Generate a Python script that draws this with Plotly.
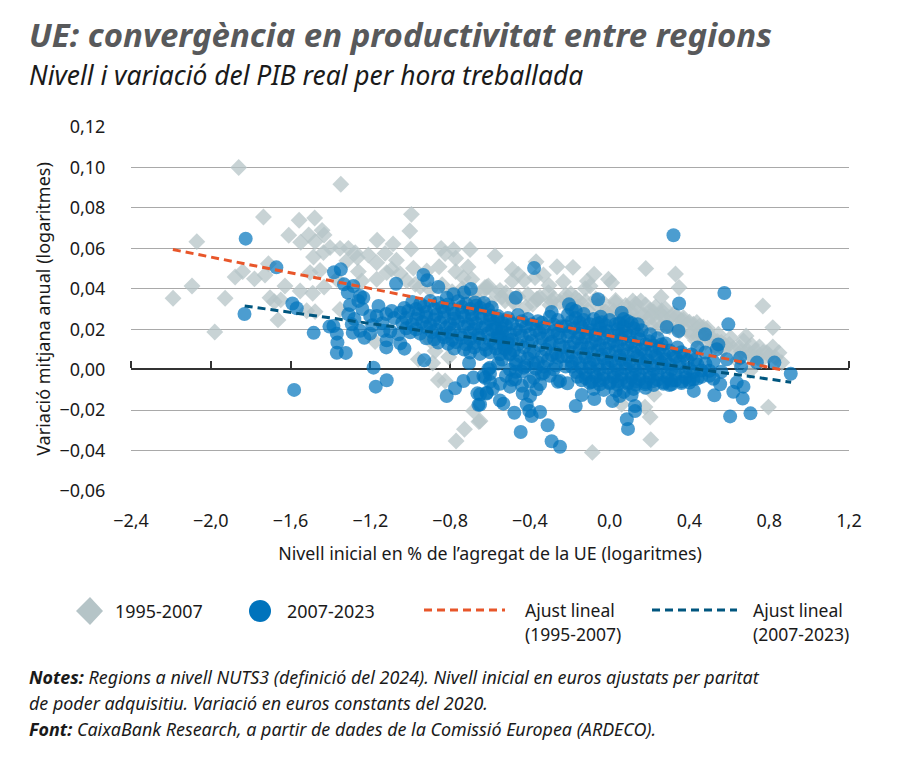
import plotly.graph_objects as go

# 1995-2007 regions (x = initial level, y = mean annual change)
grey_x = [-1.860, -1.348, -1.736, -1.557, -1.479, -2.070, -1.609, -1.509, -1.442, -1.432,
          -1.477, -1.549, -0.994, -1.002, -1.166, -1.086, -0.996, -0.845, -0.783, -0.700,
          -1.402, -1.352, -1.310, -1.435, -1.485, -1.276, -1.265, -1.210, -1.126, -1.069,
          -1.168, -0.825, -0.772, -0.855, -0.710, -0.984, -0.917, -1.452, -1.502, -1.318,
          -1.260, -1.118, -1.093, -1.051, -0.772, -0.733, -0.691, -1.711, -1.728, -1.840,
          -1.878, -1.781, -1.628, -2.094, -2.189, -1.928, -1.552, -1.489, -1.432, -1.368,
          -1.243, -1.168, -1.017, -0.975, -1.703, -1.681, -1.649, -1.519, -1.477, -1.663,
          -1.980, -1.352, -1.176, -0.897, -0.875, -0.807, -0.959, -0.887, -0.859, -0.825,
          -0.683, -0.728, -0.656, -0.770, -0.616,
          -0.575, -0.369, -0.264, -0.184, -0.488, -0.458, -0.488, -0.428, -0.332, -0.374,
          -0.232, -0.078, -0.006, 0.010, -0.112, -0.098, -0.123, 0.181, 0.330, 0.348,
          -0.304, -0.307, -0.625, -0.608, -0.550, -0.525, -0.483, -0.366, -0.386, -0.195,
          -0.219, -0.290, -0.152, 0.030, 0.116, 0.156, 0.258, 0.086, 0.203, 0.261,
          0.768, 0.818, 0.437, 0.370, 0.336, 0.684, 0.671, 0.607, 0.545, 0.487,
          0.712, 0.751, 0.818, 0.788, 0.849, 0.863, 0.704, 0.796, 0.223, 0.177,
          0.203, 0.206, -0.087, -0.650, 0.060,
          0.02, 0.07, 0.12, 0.17, 0.22, 0.27, 0.32, 0.37, 0.42, 0.47,
          0.05, 0.10, 0.15, 0.19, 0.24, 0.29, 0.34, 0.39, 0.44, 0.50,
          -0.16, -0.11, -0.06, -0.02, 0.54, 0.58, 0.62, 0.66, 0.70, 0.74,
          -0.72, -0.66, -0.60, -0.54, -0.48, -0.42, -0.36, -0.30, -0.25, -0.20,
          # thick part of the band above the blue cloud
          -0.95, -0.90, -0.84, -0.79, -0.74, -0.68, -0.63, -0.57, -0.52, -0.46, -0.41, -0.35,
          -0.28, -0.22, -0.17, -0.12, -0.07, -0.03, 0.03, 0.08, 0.13, 0.18, 0.23, 0.28,
          -0.04, 0.00, 0.05, 0.11, 0.16, 0.21, 0.26, 0.31, 0.36, 0.40, 0.45, 0.49,
          0.11, 0.16, 0.21, 0.25, 0.30, 0.35, 0.41, 0.46, 0.52, 0.56, 0.60, 0.65,
          0.69, 0.73, 0.77, 0.80, 0.83, 0.72, 0.76, 0.64, 0.57, 0.53, 0.48, 0.43]
grey_y = [0.1000, 0.0917, 0.0755, 0.0739, 0.0750, 0.0633, 0.0665, 0.0666, 0.0689, 0.0666,
          0.0633, 0.0630, 0.0768, 0.0686, 0.0640, 0.0622, 0.0597, 0.0600, 0.0595, 0.0594,
          0.0604, 0.0600, 0.0600, 0.0579, 0.0557, 0.0579, 0.0554, 0.0567, 0.0575, 0.0541,
          0.0529, 0.0574, 0.0551, 0.0509, 0.0508, 0.0502, 0.0488, 0.0491, 0.0480, 0.0538,
          0.0485, 0.0480, 0.0497, 0.0475, 0.0485, 0.0455, 0.0447, 0.0524, 0.0468, 0.0485,
          0.0458, 0.0449, 0.0414, 0.0414, 0.0353, 0.0353, 0.0389, 0.0378, 0.0409, 0.0447,
          0.0439, 0.0447, 0.0439, 0.0422, 0.0356, 0.0336, 0.0345, 0.0291, 0.0287, 0.0246,
          0.0186, 0.0298, 0.0139, 0.0142, 0.0092, 0.0063, 0.0051, 0.0033, -0.0051, -0.0056,
          -0.0204, -0.0295, -0.0257, -0.0353, 0.0409,
          0.0562, 0.0534, 0.0509, 0.0506, 0.0496, 0.0472, 0.0439, 0.0442, 0.0468, 0.0455,
          0.0435, 0.0472, 0.0447, 0.0430, 0.0439, 0.0414, 0.0401, 0.0500, 0.0473, 0.0406,
          0.0417, 0.0381, 0.0406, 0.0414, 0.0392, 0.0340, 0.0340, 0.0348, 0.0323, 0.0376,
          0.0369, 0.0340, 0.0340, 0.0332, 0.0340, 0.0340, 0.0359, 0.0307, 0.0294, 0.0291,
          0.0315, 0.0208, 0.0233, 0.0257, 0.0266, 0.0167, 0.0142, 0.0158, 0.0175, 0.0191,
          0.0122, 0.0112, 0.0112, 0.0084, 0.0084, 0.0035, -0.0006, -0.0185, -0.0122, -0.0185,
          -0.0234, -0.0346, -0.0409, -0.0254, -0.0171,
          0.0290, 0.0275, 0.0300, 0.0270, 0.0285, 0.0262, 0.0275, 0.0245, 0.0225, 0.0210,
          0.0240, 0.0255, 0.0230, 0.0250, 0.0235, 0.0220, 0.0205, 0.0190, 0.0165, 0.0150,
          0.0310, 0.0295, 0.0315, 0.0285, 0.0140, 0.0120, 0.0105, 0.0090, 0.0075, 0.0060,
          0.0370, 0.0345, 0.0325, 0.0360, 0.0330, 0.0310, 0.0350, 0.0320, 0.0335, 0.0305,
          0.0410, 0.0395, 0.0420, 0.0385, 0.0400, 0.0378, 0.0392, 0.0375, 0.0380, 0.0362, 0.0372, 0.0358,
          0.0352, 0.0345, 0.0355, 0.0338, 0.0350, 0.0330, 0.0342, 0.0318, 0.0325, 0.0320, 0.0310, 0.0300,
          0.0270, 0.0280, 0.0265, 0.0282, 0.0270, 0.0262, 0.0268, 0.0262, 0.0240, 0.0235, 0.0215, 0.0205,
          0.0220, 0.0210, 0.0218, 0.0205, 0.0212, 0.0190, 0.0180, 0.0170, 0.0150, 0.0135, 0.0125, 0.0110,
          0.0095, 0.0095, 0.0085, 0.0070, 0.0060, 0.0060, 0.0045, 0.0045, 0.0100, 0.0115, 0.0135, 0.0145]

# 2007-2023 regions
blue_x = [-1.825, -1.831, -1.671, -1.582, -1.591, -1.569, -1.484, -1.405, -1.385, -1.382,
          -1.348, -1.368, -1.365, -1.368, -1.323, -1.332, -1.313, -1.285, -1.251, -1.235,
          -1.302, -1.310, -1.293, -1.288, -1.251, -1.230, -1.201, -1.159, -1.201, -1.168,
          -1.134, -1.118, -1.071, -1.093, -1.059, -1.029, -1.184, -1.118, -1.173, -0.930,
          -0.934, -0.914, -0.859, -0.817, -0.783, -0.730, -0.696, -0.675, -0.705, -0.733,
          -0.775, -0.817, -0.683, -0.663, -0.658, -0.616, -0.608, -0.633,
          0.320, -0.379, 0.575, 0.595, 0.348, -0.058, -0.471, -0.591, -0.291, -0.204,
          -0.045, 0.060, 0.286, 0.478, 0.203, 0.345, 0.545, 0.537, 0.654, 0.738,
          0.826, 0.908, 0.587, 0.659, 0.554, 0.525, 0.637, 0.671, 0.620, 0.667,
          0.604, 0.706, 0.422, 0.300, 0.127, 0.086, 0.092, 0.127, 0.014, -0.077,
          -0.170, -0.140, -0.249, -0.212, -0.349, -0.366, -0.436, -0.399, -0.474, -0.500,
          -0.586, -0.617, -0.650, -0.550, -0.533, -0.478, -0.446, -0.391, -0.349, -0.311,
          -0.291, -0.249, -0.416, -0.403, -0.600, -0.625, -0.650,
          # left part of the cloud
          -0.99, -0.95, -0.90, -0.86, -0.81, -0.76, -0.72, -0.67, -0.63,
          -1.05, -1.01, -0.96, -0.92, -0.87, -0.83, -0.78, -0.74, -0.69, -0.65, -0.60,
          -1.04, -0.99, -0.94, -0.90, -0.85, -0.80, -0.76, -0.71, -0.67, -0.62, -0.58,
          -1.00, -0.95, -0.89, -0.84, -0.80, -0.75, -0.70, -0.66, -0.61, -0.56,
          -0.86, -0.81, -0.77, -0.72, -0.68, -0.63, -0.58, -0.53,
          -0.70, -0.65, -0.60, -0.55, -0.50,
          -1.03, -0.97, -0.93, -0.88, -0.84, -0.79, -0.74, -0.70, -0.65, -0.61,
          -1.02, -0.97, -0.92, -0.88, -0.83, -0.78, -0.73, -0.69, -0.64, -0.60, -0.56,
          -1.02, -0.97, -0.92, -0.87, -0.82, -0.78, -0.73, -0.68, -0.64, -0.59, -0.54,
          -0.92, -0.88, -0.83, -0.79, -0.74, -0.70, -0.65, -0.60, -0.55, -0.51,
          -0.78, -0.73, -0.68, -0.62, -0.57, -0.52,
          # middle part
          -0.56, -0.51, -0.46, -0.41, -0.36, -0.30, -0.26,
          -0.57, -0.52, -0.47, -0.42, -0.37, -0.33, -0.28, -0.24,
          -0.55, -0.49, -0.44, -0.39, -0.34, -0.29, -0.25,
          -0.53, -0.48, -0.43, -0.38, -0.32, -0.27, -0.23,
          -0.54, -0.47, -0.41, -0.36, -0.31, -0.26,
          -0.50, -0.44, -0.37, -0.33, -0.28,
          -0.54, -0.49, -0.44, -0.39, -0.34, -0.28,
          -0.54, -0.50, -0.45, -0.40, -0.35, -0.31, -0.26,
          -0.51, -0.46, -0.41, -0.35, -0.30, -0.25,
          -0.50, -0.45, -0.40, -0.34, -0.29, -0.24,
          -0.47, -0.42, -0.38, -0.33, -0.27, -0.22,
          # densest part
          -0.21, -0.17, -0.13, -0.08, -0.04, 0.00, 0.05, 0.09,
          -0.22, -0.18, -0.14, -0.09, -0.05, -0.01, 0.04, 0.08, 0.12, 0.16,
          -0.21, -0.16, -0.12, -0.07, -0.03, 0.02, 0.06, 0.11, 0.15, 0.20, 0.24, 0.28,
          -0.20, -0.15, -0.11, -0.06, -0.02, 0.03, 0.07, 0.12, 0.16, 0.21, 0.25, 0.30, 0.34,
          -0.21, -0.17, -0.12, -0.08, -0.03, 0.01, 0.06, 0.10, 0.15, 0.19, 0.24, 0.28, 0.33, 0.37, 0.41,
          -0.19, -0.14, -0.10, -0.05, -0.01, 0.04, 0.08, 0.13, 0.17, 0.22, 0.26, 0.31, 0.35, 0.40, 0.44, 0.48,
          -0.16, -0.12, -0.07, -0.03, 0.02, 0.06, 0.11, 0.15, 0.20, 0.24, 0.29, 0.33, 0.38, 0.42, 0.46, 0.50,
          -0.10, -0.05, 0.00, 0.04, 0.09, 0.13, 0.18, 0.22, 0.27, 0.31, 0.36, 0.40,
          -0.19, -0.15, -0.10, -0.06, -0.02, 0.03, 0.07,
          -0.20, -0.15, -0.11, -0.07, -0.03, 0.02, 0.06, 0.10, 0.14,
          -0.18, -0.14, -0.09, -0.05, 0.00, 0.04, 0.09, 0.13, 0.18, 0.22, 0.26,
          -0.19, -0.13, -0.09, -0.04, 0.00, 0.05, 0.09, 0.14, 0.18, 0.23, 0.27, 0.32, 0.36,
          -0.19, -0.15, -0.10, -0.06, -0.01, 0.03, 0.08, 0.12, 0.17, 0.21, 0.26, 0.30, 0.35, 0.39, 0.43,
          -0.17, -0.12, -0.08, -0.03, 0.02, 0.06, 0.11, 0.15, 0.20, 0.24, 0.29, 0.33, 0.38, 0.42, 0.46,
          -0.14, -0.09, -0.05, 0.00, 0.04, 0.09, 0.13, 0.18, 0.22, 0.27, 0.31, 0.36, 0.40, 0.44,
          # edges of the cloud
          -1.12, -1.08, -1.14, -1.24, -1.19, -1.10, -1.05, -1.12, -1.28, -1.26,
          -0.60, -0.56, -0.52, -0.47, -0.43, -0.38, -0.34, -0.30, -0.26, -0.60, -0.55, -0.49, -0.44, -0.40,
          -0.08, -0.03, 0.03, 0.07, 0.12, 0.18, 0.05, 0.11,
          -0.19, -0.17, -0.13, 0.07, 0.11, 0.14,
          0.44, 0.48, 0.52, 0.50, 0.56, 0.52]
blue_y = [0.0648, 0.0275, 0.0506, -0.0100, 0.0327, 0.0304, 0.0182, 0.0213, 0.0216, 0.0482,
          0.0496, 0.0178, 0.0134, 0.0084, 0.0083, 0.0422, 0.0381, 0.0414, 0.0364, 0.0356,
          0.0320, 0.0274, 0.0224, 0.0183, 0.0192, 0.0158, 0.0178, 0.0315, 0.0266, 0.0266,
          0.0192, 0.0145, 0.0425, 0.0290, 0.0175, 0.0104, 0.0010, -0.0052, -0.0084, 0.0046,
          0.0468, 0.0442, 0.0409, 0.0356, 0.0373, 0.0381, 0.0399, 0.0332, 0.0033, -0.0056,
          -0.0092, -0.0130, -0.0039, -0.0117, -0.0174, -0.0114, 0.0002, -0.0031,
          0.0665, 0.0503, 0.0379, 0.0224, 0.0327, 0.0348, 0.0356, 0.0307, 0.0285, 0.0323,
          0.0262, 0.0282, 0.0211, 0.0175, 0.0175, 0.0191, 0.0125, 0.0101, 0.0059, 0.0035,
          0.0035, -0.0020, 0.0051, 0.0015, -0.0072, -0.0127, -0.0064, -0.0084, -0.0109, -0.0143,
          -0.0231, -0.0216, -0.0105, -0.0076, -0.0205, -0.0245, -0.0293, -0.0180, -0.0155, -0.0145,
          -0.0180, -0.0125, -0.0056, -0.0067, -0.0072, -0.0097, -0.0118, -0.0130, -0.0048, -0.0084,
          -0.0094, -0.0118, -0.0172, -0.0152, -0.0168, -0.0213, -0.0308, -0.0229, -0.0209, -0.0275,
          -0.0354, -0.0381, -0.0172, -0.0204, 0.0010, -0.0040, -0.0122,
          # left part of the cloud
          0.0335, 0.0325, 0.0340, 0.0330, 0.0322, 0.0338, 0.0326, 0.0316, 0.0330,
          0.0282, 0.0290, 0.0275, 0.0285, 0.0270, 0.0288, 0.0276, 0.0284, 0.0272, 0.0280, 0.0268,
          0.0232, 0.0225, 0.0236, 0.0222, 0.0234, 0.0226, 0.0238, 0.0224, 0.0230, 0.0220, 0.0232,
          0.0185, 0.0178, 0.0186, 0.0176, 0.0182, 0.0174, 0.0184, 0.0172, 0.0180, 0.0170,
          0.0134, 0.0128, 0.0136, 0.0126, 0.0132, 0.0124, 0.0130, 0.0122,
          0.0085, 0.0078, 0.0086, 0.0076, 0.0080,
          0.0305, 0.0300, 0.0312, 0.0302, 0.0308, 0.0298, 0.0310, 0.0300, 0.0306, 0.0296,
          0.0255, 0.0250, 0.0260, 0.0248, 0.0258, 0.0252, 0.0262, 0.0250, 0.0256, 0.0246, 0.0252,
          0.0205, 0.0200, 0.0210, 0.0198, 0.0208, 0.0202, 0.0212, 0.0200, 0.0206, 0.0196, 0.0204,
          0.0155, 0.0150, 0.0160, 0.0148, 0.0158, 0.0152, 0.0156, 0.0146, 0.0154, 0.0150,
          0.0105, 0.0100, 0.0110, 0.0098, 0.0106, 0.0102,
          # middle part
          0.0265, 0.0255, 0.0270, 0.0250, 0.0240, 0.0262, 0.0245,
          0.0205, 0.0218, 0.0200, 0.0212, 0.0195, 0.0208, 0.0190, 0.0215,
          0.0160, 0.0148, 0.0165, 0.0142, 0.0155, 0.0138, 0.0160,
          0.0105, 0.0095, 0.0110, 0.0088, 0.0100, 0.0082, 0.0112,
          0.0050, 0.0042, 0.0055, 0.0036, 0.0048, 0.0060,
          0.0000, -0.0010, 0.0005, -0.0015, 0.0002,
          0.0235, 0.0228, 0.0240, 0.0225, 0.0232, 0.0222,
          0.0185, 0.0178, 0.0190, 0.0175, 0.0182, 0.0172, 0.0180,
          0.0130, 0.0125, 0.0135, 0.0120, 0.0128, 0.0122,
          0.0075, 0.0068, 0.0080, 0.0065, 0.0072, 0.0066,
          0.0025, 0.0018, 0.0030, 0.0015, 0.0022, 0.0016,
          # densest part
          0.0270, 0.0255, 0.0245, 0.0250, 0.0235, 0.0245, 0.0230, 0.0240,
          0.0215, 0.0205, 0.0210, 0.0195, 0.0205, 0.0190, 0.0200, 0.0185, 0.0205, 0.0195,
          0.0165, 0.0155, 0.0160, 0.0145, 0.0155, 0.0140, 0.0150, 0.0135, 0.0150, 0.0140, 0.0155, 0.0130,
          0.0115, 0.0105, 0.0110, 0.0095, 0.0105, 0.0090, 0.0100, 0.0085, 0.0100, 0.0090, 0.0105, 0.0095, 0.0110,
          0.0065, 0.0055, 0.0060, 0.0048, 0.0055, 0.0042, 0.0050, 0.0040, 0.0055, 0.0045, 0.0060, 0.0050, 0.0062, 0.0070, 0.0075,
          0.0015, 0.0008, 0.0012, 0.0002, 0.0010, -0.0002, 0.0006, -0.0004, 0.0008, 0.0000, 0.0010, 0.0002, 0.0012, 0.0005, 0.0025, 0.0030,
          -0.0035, -0.0042, -0.0036, -0.0045, -0.0038, -0.0046, -0.0040, -0.0048, -0.0040, -0.0050, -0.0042, -0.0052, -0.0040, -0.0048, -0.0035, -0.0030,
          -0.0065, -0.0072, -0.0068, -0.0075, -0.0070, -0.0074, -0.0072, -0.0076, -0.0070, -0.0072, -0.0066, -0.0064,
          0.0240, 0.0232, 0.0225, 0.0228, 0.0220, 0.0225, 0.0215,
          0.0185, 0.0178, 0.0182, 0.0172, 0.0180, 0.0168, 0.0175, 0.0165, 0.0175,
          0.0135, 0.0128, 0.0132, 0.0122, 0.0130, 0.0118, 0.0125, 0.0115, 0.0125, 0.0118, 0.0125,
          0.0085, 0.0078, 0.0082, 0.0072, 0.0080, 0.0068, 0.0076, 0.0066, 0.0078, 0.0068, 0.0080, 0.0072, 0.0086,
          0.0038, 0.0030, 0.0035, 0.0024, 0.0032, 0.0020, 0.0028, 0.0018, 0.0030, 0.0022, 0.0035, 0.0026, 0.0038, 0.0045, 0.0050,
          -0.0012, -0.0020, -0.0014, -0.0024, -0.0016, -0.0026, -0.0018, -0.0028, -0.0016, -0.0024, -0.0014, -0.0022, -0.0010, -0.0012, -0.0004,
          -0.0052, -0.0060, -0.0054, -0.0062, -0.0056, -0.0062, -0.0058, -0.0064, -0.0056, -0.0062, -0.0054, -0.0058, -0.0050, -0.0044,
          # edges of the cloud
          0.0275, 0.0255, 0.0230, 0.0300, 0.0220, 0.0190, 0.0130, 0.0110, 0.0250, 0.0340,
          -0.0020, 0.0030, -0.0030, -0.0010, 0.0010, -0.0040, -0.0020, -0.0030, -0.0060, -0.0060, -0.0070, -0.0050, -0.0080, -0.0060,
          -0.0095, -0.0100, -0.0105, -0.0110, -0.0095, -0.0090, -0.0130, -0.0125,
          0.0300, 0.0290, 0.0275, 0.0250, 0.0230, 0.0225,
          0.0110, 0.0085, 0.0040, -0.0005, -0.0010, -0.0045]

fit_old_x = [-2.19, 0.87]
fit_old_y = [0.0594, -0.0002]
fit_new_x = [-1.83, 0.91]
fit_new_y = [0.0315, -0.0062]

x_ticks = [-2.4, -2.0, -1.6, -1.2, -0.8, -0.4, 0.0, 0.4, 0.8, 1.2]
y_ticks = [-0.06, -0.04, -0.02, 0.0, 0.02, 0.04, 0.06, 0.08, 0.10, 0.12]

FONT = 'Noto Sans'
TEXT = '#1a1a1a'
GREY = '#b5c4c7'
BLUE = '#0073bc'
ORANGE = '#e8562a'
NAVY = '#00567f'

# plot area in page pixels
L, R, T, B = 131, 849, 127, 491


def px(x):
    return (x - L) / (R - L)


def py(y):
    return (B - y) / (B - T)


fig = go.Figure()
fig.add_trace(go.Scatter(x=grey_x, y=grey_y, mode='markers', name='1995-2007',
                         marker=dict(symbol='diamond', size=13, color=GREY, opacity=0.75, line=dict(width=0))))
fig.add_trace(go.Scatter(x=blue_x, y=blue_y, mode='markers', name='2007-2023',
                         marker=dict(symbol='circle', size=14, color=BLUE, opacity=0.7, line=dict(width=0))))
fig.add_trace(go.Scatter(x=fit_old_x, y=fit_old_y, mode='lines', name='Ajust lineal (1995-2007)',
                         line=dict(color=ORANGE, width=3, dash='8px,5px')))
fig.add_trace(go.Scatter(x=fit_new_x, y=fit_new_y, mode='lines', name='Ajust lineal (2007-2023)',
                         line=dict(color=NAVY, width=3, dash='8px,5px')))
# empty trace so the zero line axis (xaxis2) gets drawn
fig.add_trace(go.Scatter(x=[], y=[], xaxis='x2', showlegend=False))


def note(text, x, y, size, anchor='left', **kw):
    return dict(text=text, x=px(x), y=py(y), xref='paper', yref='paper', xanchor=anchor, yanchor='middle',
                showarrow=False, font=dict(family=FONT, size=size, color=kw.pop('color', TEXT)), **kw)


annotations = [
    note('<b><i>UE: convergència en productivitat entre regions</i></b>', 27, 34, 33, color='#58595b'),
    note('<i>Nivell i variació del PIB real per hora treballada</i>', 27, 75, 26.4),
    note('1995-2007', 113, 611, 17.9),
    note('2007-2023', 285, 611, 17.9),
    note('Ajust lineal', 523, 610, 17.5),
    note('(1995-2007)', 523, 634, 17.5),
    note('Ajust lineal', 751, 610, 17.5),
    note('(2007-2023)', 751, 634, 17.5),
    note('<b><i>Notes:</i></b><i> Regions a nivell NUTS3 (definició del 2024). Nivell inicial en euros ajustats per paritat</i>', 27, 677, 17.9),
    note('<i>de poder adquisitiu. Variació en euros constants del 2020.</i>', 27, 703, 17.9),
    note('<b><i>Font:</i></b><i> CaixaBank Research, a partir de dades de la Comissió Europea (ARDECO).</i>', 27, 729, 17.9),
]

shapes = [
    dict(type='path', xref='paper', yref='paper', line=dict(width=0), fillcolor=GREY,
         path='M %f %f L %f %f L %f %f L %f %f Z' % (px(76), py(611), px(90), py(597), px(103), py(611), px(90), py(625))),
    dict(type='circle', xref='paper', yref='paper', line=dict(width=0), fillcolor=BLUE,
         x0=px(249), x1=px(271), y0=py(600), y1=py(622)),
    dict(type='line', xref='paper', yref='paper', x0=px(424), x1=px(505), y0=py(610), y1=py(610),
         line=dict(color=ORANGE, width=3, dash='8px,5px')),
    dict(type='line', xref='paper', yref='paper', x0=px(652), x1=px(737), y0=py(610), y1=py(610),
         line=dict(color=NAVY, width=3, dash='8px,5px')),
]

fig.update_layout(
    width=900, height=759, autosize=False, showlegend=False,
    margin=dict(l=L, r=900 - R, t=T, b=759 - B, pad=0),
    paper_bgcolor='white', plot_bgcolor='white', separators=', ',
    font=dict(family=FONT, size=18, color=TEXT),
    annotations=annotations, shapes=shapes,
    xaxis=dict(range=[-2.4, 1.2], tickvals=x_ticks, tickformat='.1f', showgrid=False, zeroline=False,
               showline=False, ticks='outside', ticklen=13, tickcolor='rgba(0,0,0,0)',
               title=dict(text='Nivell inicial en % de l’agregat de la UE (logaritmes)', standoff=16,
                          font=dict(size=17.8))),
    # line at y = 0 with the small upward ticks
    xaxis2=dict(range=[-2.4, 1.2], overlaying='x', side='top', anchor='free', position=py(368.7), tickvals=x_ticks,
                showticklabels=False, showgrid=False, zeroline=False, showline=True, linecolor='#333333',
                linewidth=1.5, ticks='outside', ticklen=7, tickcolor='#333333', tickwidth=1.5, layer='below traces'),
    yaxis=dict(range=[-0.06, 0.12], tickvals=y_ticks, tickformat='.2f', showgrid=True, gridcolor='#a9a9a9',
               gridwidth=1, zeroline=False, showline=False, ticks='outside', ticklen=21, tickcolor='rgba(0,0,0,0)',
               title=dict(text='Variació mitjana anual (logaritmes)', standoff=4, font=dict(size=18))),
)

fig.write_html("out.html", config=dict(displayModeBar=False), post_script="document.body.style.margin='0';")
